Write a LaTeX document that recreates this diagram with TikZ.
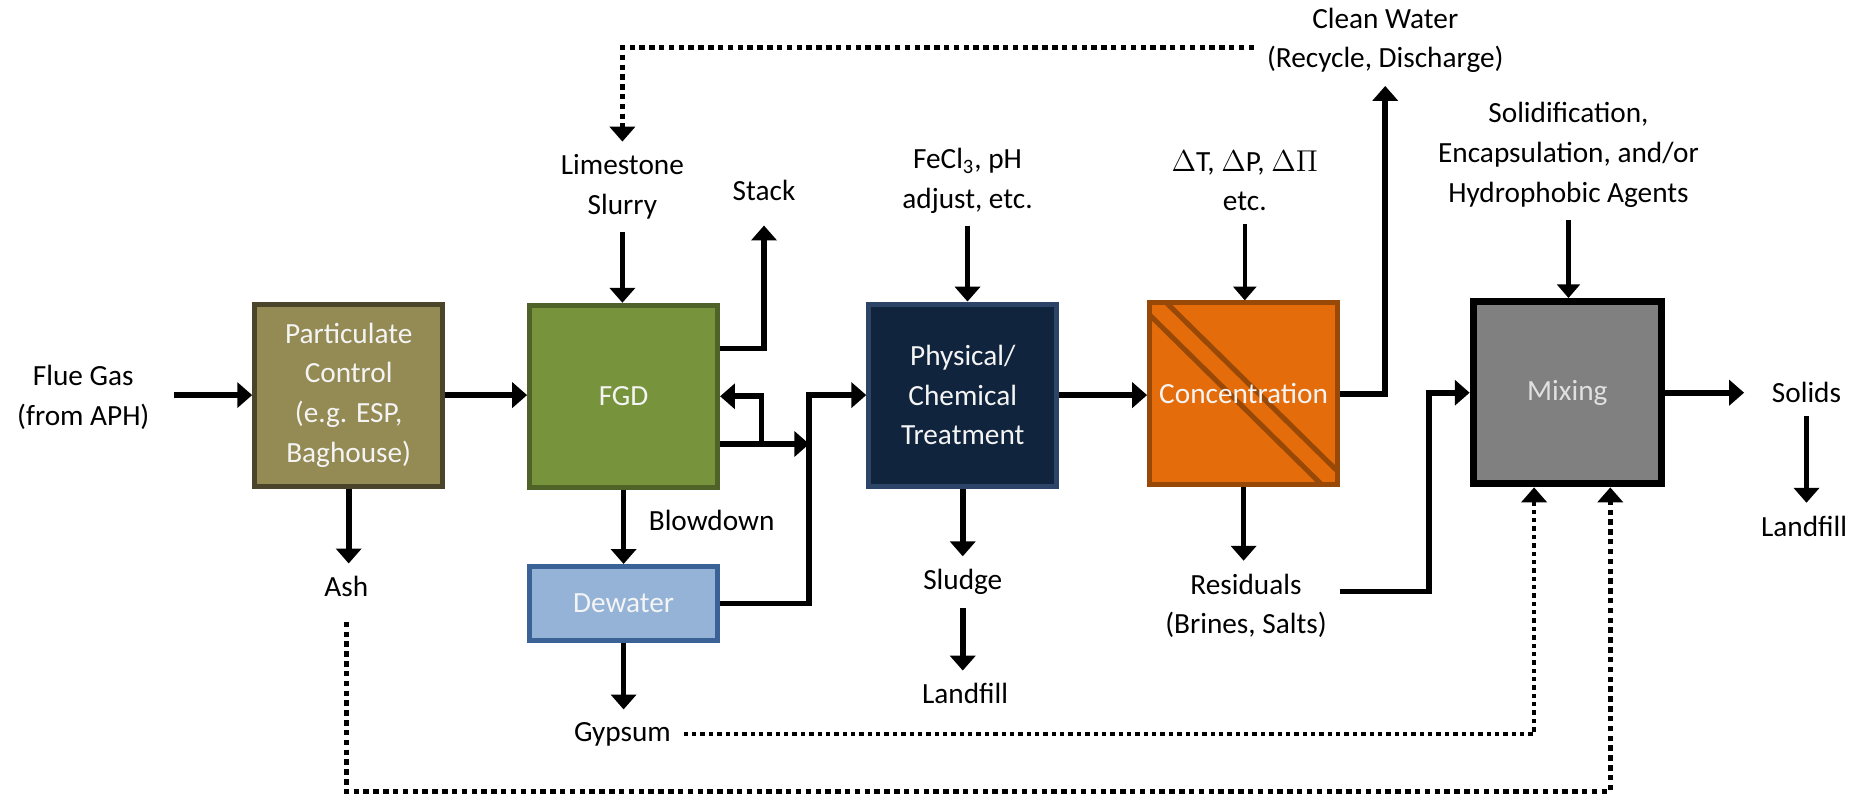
\documentclass[tikz,border=0pt]{standalone}
\usepackage{fontspec}
\setmainfont{Carlito}
\usetikzlibrary{arrows.meta,calc}
\definecolor{partfill}{HTML}{948A54}
\definecolor{partline}{HTML}{4A452A}
\definecolor{fgdfill}{HTML}{77933C}
\definecolor{fgdline}{HTML}{4F6228}
\definecolor{physfill}{HTML}{10243E}
\definecolor{physline}{HTML}{2B4468}
\definecolor{dwfill}{HTML}{95B3D7}
\definecolor{dwline}{HTML}{3A6296}
\definecolor{concfill}{HTML}{E46C0A}
\definecolor{concline}{HTML}{984807}
\definecolor{mixfill}{HTML}{808080}
\definecolor{boxtext}{HTML}{F4F4F4}
\begin{document}
\begin{tikzpicture}[x=0.02cm,y=-0.02cm,
  font=\fontsize{14}{19}\selectfont,
  unit/.style={draw, line width=2.4pt, minimum width=3.16cm, minimum height=3.06cm,
               text=boxtext, align=center, inner sep=2pt},
  lbl/.style={align=center, inner sep=6pt},
  tip/.style={-{Triangle[width=0.42cm,length=0.25cm]}},
  flow/.style={line width=2.7pt, tip},
  feed/.style={line width=2.1pt, -{Triangle[width=0.38cm,length=0.23cm]}},
  recycle/.style={line width=2.6pt, dash pattern=on 2.6pt off 2.1pt, tip},
  finerecycle/.style={line width=2.1pt, dash pattern=on 2.1pt off 1.9pt, tip},
]
\useasboundingbox (0,0) rectangle (1568,669);

% process units
\node[unit, fill=partfill, draw=partline] (part) at (293,332)
  {Particulate\\Control\\(e.g. ESP,\\Baghouse)};
\node[unit, fill=fgdfill, draw=fgdline] (fgd) at (524,333) {FGD};
\node[unit, fill=dwfill, draw=dwline, minimum height=1.24cm] (dw) at (524,507) {Dewater};
\node[unit, fill=physfill, draw=physline] (phys) at (809,332)
  {Physical/\\Chemical\\Treatment};
\node[unit, fill=concfill, draw=concline,
  path picture={
    \draw[concline, line width=2.4pt]
      ($(path picture bounding box.north west)!0.066!(path picture bounding box.south west)$) --
      ($(path picture bounding box.south west)!0.917!(path picture bounding box.south east)$);
    \draw[concline, line width=2.4pt]
      ($(path picture bounding box.north west)!0.09!(path picture bounding box.north east)$) --
      ($(path picture bounding box.north east)!0.925!(path picture bounding box.south east)$);
  }] (conc) at (1045,331) {Concentration};
\node[unit, fill=mixfill, draw=black, line width=3.5pt, text=black!12] (mix) at (1317,330) {Mixing};

% streams and reagents
\node[lbl] (flue) at (70,334) {Flue Gas\\(from APH)};
\node[lbl] (ash) at (291,493) {Ash};
\node[lbl] (ls) at (523,157) {Limestone\\Slurry};
\node[lbl] (stack) at (642,160) {Stack};
\node[lbl] (fecl) at (813,152) {FeCl\textsubscript{3}, pH\\adjust, etc.};
\node[lbl] (dtp) at (1046,152) {$\Delta$T, $\Delta$P, $\Delta\Pi$\\etc.};
\node[lbl] (water) at (1164,34) {Clean Water\\(Recycle, Discharge)};
\node[lbl] (agents) at (1318,130) {Solidification,\\Encapsulation, and/or\\Hydrophobic Agents};
\node[lbl] (solids) at (1518,330) {Solids};
\node[lbl] (fill2) at (1516,442) {Landfill};
\node[lbl] (blow) at (598,437) {Blowdown};
\node[lbl] (sludge) at (809,489) {Sludge};
\node[lbl] (fill1) at (811,583) {Landfill};
\node[lbl] (gyp) at (523,617) {Gypsum};
\node[lbl] (resid) at (1047,509) {Residuals\\(Brines, Salts)};

% routing points
\coordinate (fgdhigh) at ($(fgd.north east)!0.245!(fgd.south east)$);
\coordinate (fgdlow) at ($(fgd.north east)!0.755!(fgd.south east)$);
\coordinate (tap) at (640,0);
\coordinate (bus) at (680,0);
\coordinate (topline) at (0,40);
\coordinate (lowline) at (0,665);
\coordinate (rbend) at (1201,497);
\coordinate (mixin1) at ($(mix.south west)!0.33!(mix.south east)$);
\coordinate (mixin2) at ($(mix.south west)!0.72!(mix.south east)$);

% main solid flows
\draw[flow, shorten <=0.2cm] (flue.east |- part.west) -- (part.west);
\draw[flow] (part.east) -- (part.east -| fgd.west);
\draw[flow] (part.south) -- (part.south |- ash.north);
\draw[flow] (ls) -- (ls |- fgd.north);
\draw[flow, shorten >=0.2cm] (fgdhigh) -| (stack.south);
\draw[flow] (fgdlow) -- (fgdlow -| bus);
\draw[flow] (fgdlow -| tap) |- (fgd.east);
\draw[flow] (fgd.south) -- (dw.north);
\draw[flow] (dw.east) -| (bus |- phys.west) -- (phys.west);
\draw[flow] (dw.south) -- (dw.south |- gyp.north);
\draw[flow] (fecl) -- (fecl |- phys.north);
\draw[flow] (phys.east) -- (phys.east -| conc.west);
\draw[flow] (phys.south) -- (phys.south |- sludge.north);
\draw[flow] (sludge.south) -- (sludge.south |- fill1.north);
\draw[feed] (dtp) -- (dtp |- conc.north);
\draw[flow] (conc.east) -| (water.south);
\draw[flow] (conc.south) -- (conc.south |- resid.north);
\draw[flow] (resid.east |- rbend) -- (rbend) |- (mix.west);
\draw[feed] (agents) -- (agents |- mix.north);
\draw[flow, shorten >=0.25cm] (mix.east) -- (mix.east -| solids.west);
\draw[flow] (solids.south) -- (solids.south |- fill2.north);

% dotted recycle / by-product routes
\draw[recycle] (water.west |- topline) -| (ls.north);
\draw[finerecycle] (gyp.east) -| (mixin1);
\draw[recycle, shorten <=0.2cm] (ash.south) -- (ash.south |- lowline) -| (mixin2);
\end{tikzpicture}
\end{document}
